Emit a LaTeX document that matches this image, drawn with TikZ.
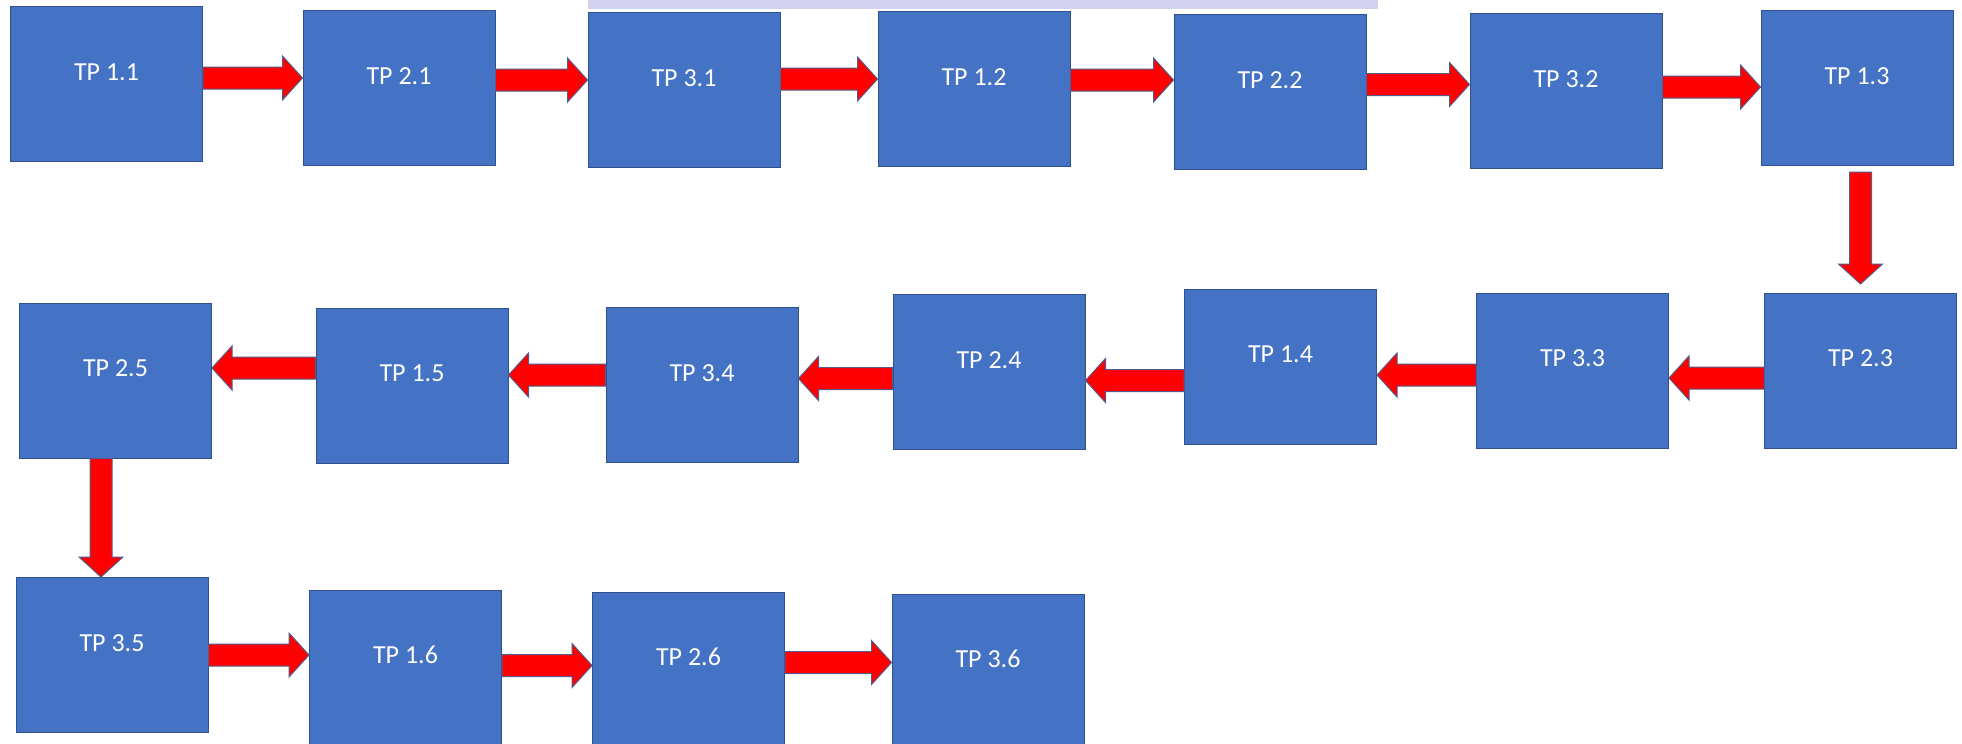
\documentclass[tikz,border=0pt]{standalone}
\usepackage{fontspec}
\setmainfont{Carlito}
\usetikzlibrary{calc}
\definecolor{boxfill}{HTML}{4472C4}
\definecolor{boxline}{HTML}{2F528F}
\definecolor{arrowline}{RGB}{85,92,140}
\definecolor{photostrip}{RGB}{210,210,240}
\begin{document}
\begin{tikzpicture}[x=1pt,y=-1pt,
  tpbox/.style={draw=boxline,line width=1pt,fill=boxfill,text=white,
    minimum width=192pt,minimum height=155pt,inner sep=0pt,
    font=\fontsize{26pt}{30pt}\selectfont,text height=16pt,text depth=23.6pt},
  flow/.style={draw=arrowline,line width=1pt,fill=red,
    to path={let \p1=(\tikztostart), \p2=(\tikztotarget) in
      ($(\p1)!11pt!90:(\p2)$)
      -- ($(\p2)!20pt!(\p1)!11pt!90:(\p2)$)
      -- ($(\p2)!20pt!(\p1)!22pt!90:(\p2)$)
      -- (\p2)
      -- ($(\p2)!20pt!(\p1)!22pt!-90:(\p2)$)
      -- ($(\p2)!20pt!(\p1)!11pt!-90:(\p2)$)
      -- ($(\p1)!11pt!-90:(\p2)$) -- cycle}}]
\useasboundingbox (0,0) rectangle (1962,744);
\fill[photostrip] (588,0) rectangle (1378,9);

\node[tpbox] (tp11) at (106.5,84) {TP 1.1};
\node[tpbox] (tp21) at (399,88) {TP 2.1};
\node[tpbox] (tp31) at (684,90) {TP 3.1};
\node[tpbox] (tp12) at (974,89) {TP 1.2};
\node[tpbox] (tp22) at (1270,92) {TP 2.2};
\node[tpbox] (tp32) at (1566,91) {TP 3.2};
\node[tpbox] (tp13) at (1857,88) {TP 1.3};

\node[tpbox] (tp25) at (115.5,380.5) {TP 2.5};
\node[tpbox] (tp15) at (412,385.5) {TP 1.5};
\node[tpbox] (tp34) at (702,385) {TP 3.4};
\node[tpbox] (tp24) at (989,372) {TP 2.4};
\node[tpbox] (tp14) at (1280.5,366.5) {TP 1.4};
\node[tpbox] (tp33) at (1572.5,370.5) {TP 3.3};
\node[tpbox] (tp23) at (1860.5,370.5) {TP 2.3};

\node[tpbox] (tp35) at (112,655) {TP 3.5};
\node[tpbox] (tp16) at (405.5,667.5) {TP 1.6};
\node[tpbox] (tp26) at (688.5,669.5) {TP 2.6};
\node[tpbox] (tp36) at (988,671.5) {TP 3.6};

\path[flow] (tp11.east |- 0,78) to (tp21.west |- 0,78);
\path[flow] (tp21.east |- 0,80) to (tp31.west |- 0,80);
\path[flow] (tp31.east |- 0,79) to (tp12.west |- 0,79);
\path[flow] (tp12.east |- 0,80) to (tp22.west |- 0,80);
\path[flow] (tp22.east |- 0,84.5) to (tp32.west |- 0,84.5);
\path[flow] (tp32.east |- 0,87) to (tp13.west |- 0,87);
\path[flow] (tp23.north |- 0,172) to (tp23.north |- 0,284);

\path[flow] (tp23.west |- 0,378) to (tp33.east |- 0,378);
\path[flow] (tp33.west |- 0,375) to (tp14.east |- 0,375);
\path[flow] (tp14.west |- 0,380.5) to (tp24.east |- 0,380.5);
\path[flow] (tp24.west |- 0,378.5) to (tp34.east |- 0,378.5);
\path[flow] (tp34.west |- 0,375) to (tp15.east |- 0,375);
\path[flow] (tp15.west |- 0,368) to (tp25.east |- 0,368);
\path[flow] (tp25.south -| 101,0) to (tp35.north -| 101,0);

\path[flow] (tp35.east |- 0,655) to (tp16.west |- 0,655);
\path[flow] (tp16.east |- 0,665.5) to (tp26.west |- 0,665.5);
\path[flow] (tp26.east |- 0,662.5) to (tp36.west |- 0,662.5);
\end{tikzpicture}
\end{document}
